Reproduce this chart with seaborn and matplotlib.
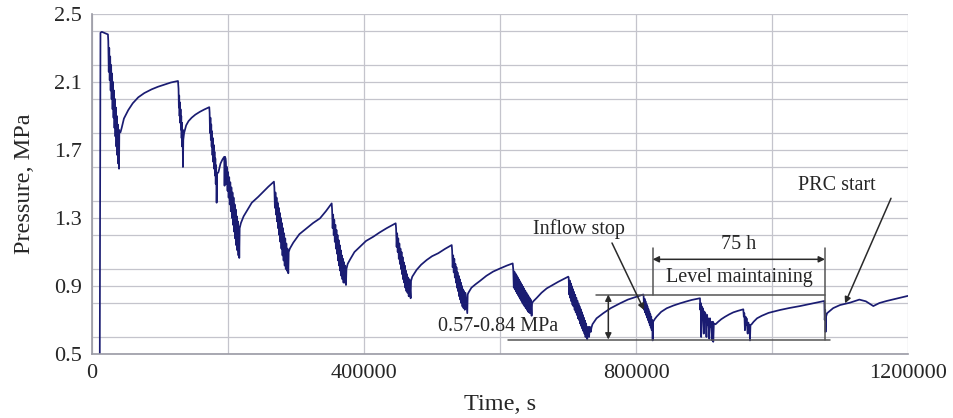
import matplotlib
matplotlib.use("Agg")
import matplotlib.pyplot as plt
import numpy as np
import pandas as pd
import seaborn as sns
from matplotlib.ticker import MultipleLocator, FixedLocator

# (time s, pressure MPa), one list per injection/recovery cycle
FILL = [(11500, 0.50), (12500, 2.39), (14500, 2.395), (23500, 2.38)]
CYCLE_1 = [
    (24000, 2.34), (24700, 2.16), (25400, 2.30), (26100, 2.11), (26800, 2.25), (27500, 2.05),
    (28200, 2.20), (28900, 2.00), (29600, 2.15), (30300, 1.94), (31000, 2.10), (31700, 1.89),
    (32400, 2.05), (33100, 1.83), (33800, 2.00), (34500, 1.78), (35200, 1.95), (35900, 1.72),
    (36600, 1.90), (37300, 1.67), (38000, 1.85), (38700, 1.62), (39300, 1.82), (39800, 1.59),
    (40200, 1.80), (42000, 1.805), (43700, 1.83), (47000, 1.885), (53400, 1.935), (60000, 1.975),
    (68100, 2.01), (77000, 2.035), (87800, 2.057), (97000, 2.072), (107400, 2.086), (116000, 2.097),
    (126500, 2.106),
]
CYCLE_2 = [
    (127300, 2.06), (127800, 1.95), (128300, 2.02), (128800, 1.90), (129300, 1.98), (129800, 1.86),
    (130300, 1.94), (130800, 1.82), (131300, 1.90), (131800, 1.77), (132300, 1.86), (132800, 1.72),
    (133300, 1.82), (133800, 1.60), (134300, 1.76), (135500, 1.80), (138500, 1.845), (142000, 1.87),
    (146600, 1.89), (152000, 1.908), (158800, 1.925), (165000, 1.938), (172500, 1.952),
]
CYCLE_3 = [
    (173000, 1.92), (173600, 1.80), (174200, 1.89), (174800, 1.76), (175400, 1.85), (176000, 1.72),
    (176600, 1.81), (177200, 1.67), (177800, 1.77), (178400, 1.63), (179000, 1.73), (179600, 1.59),
    (180200, 1.69), (180800, 1.55), (181400, 1.65), (182000, 1.50), (182600, 1.61), (183300, 1.39),
    (184000, 1.56), (186000, 1.57), (189000, 1.62), (192000, 1.645), (194500, 1.66), (195000, 1.49),
    (195600, 1.66), (196500, 1.65),
]
CYCLE_4 = [
    (197000, 1.63), (197800, 1.50), (198600, 1.60), (199400, 1.46), (200200, 1.57), (201000, 1.42),
    (201800, 1.54), (202600, 1.38), (203400, 1.51), (204200, 1.34), (205000, 1.48), (205800, 1.30),
    (206600, 1.45), (207400, 1.26), (208200, 1.42), (209000, 1.22), (209800, 1.38), (210600, 1.18),
    (211400, 1.35), (212200, 1.14), (213000, 1.31), (213800, 1.11), (214600, 1.28), (215400, 1.08),
    (216000, 1.25), (216600, 1.065), (217200, 1.24), (219000, 1.27), (223000, 1.31), (227500, 1.34),
    (235000, 1.39), (244600, 1.425), (252000, 1.455), (259300, 1.484), (267600, 1.514),
]
CYCLE_5 = [
    (268200, 1.48), (269000, 1.36), (269800, 1.45), (270600, 1.32), (271400, 1.42), (272200, 1.28),
    (273000, 1.39), (273800, 1.24), (274600, 1.36), (275400, 1.20), (276200, 1.33), (277000, 1.16),
    (277800, 1.30), (278600, 1.12), (279400, 1.27), (280200, 1.08), (281000, 1.24), (281800, 1.05),
    (282600, 1.21), (283400, 1.02), (284200, 1.18), (285000, 1.00), (285800, 1.15), (286600, 0.99),
    (287400, 1.12), (288700, 0.975), (289300, 1.10), (291000, 1.12), (296000, 1.155), (305000, 1.205),
    (315700, 1.24), (325000, 1.27), (335300, 1.298), (344000, 1.34), (352500, 1.386),
]
CYCLE_6 = [
    (353100, 1.35), (353900, 1.24), (354700, 1.32), (355500, 1.20), (356300, 1.29), (357100, 1.16),
    (357900, 1.26), (358700, 1.12), (359500, 1.23), (360300, 1.09), (361100, 1.20), (361900, 1.05),
    (362700, 1.17), (363500, 1.02), (364300, 1.14), (365100, 0.99), (365900, 1.11), (366700, 0.96),
    (367500, 1.08), (368300, 0.94), (369100, 1.06), (369900, 0.92), (370700, 1.04), (371500, 0.92),
    (372300, 1.02), (373500, 0.906), (374200, 1.00), (376000, 1.03), (379400, 1.055), (386000, 1.10),
    (394100, 1.131), (403000, 1.165), (413700, 1.19), (423000, 1.215), (433300, 1.24), (446600, 1.269),
]
CYCLE_7 = [
    (447200, 1.24), (448000, 1.13), (448800, 1.21), (449600, 1.10), (450400, 1.18), (451200, 1.06),
    (452000, 1.15), (452800, 1.03), (453600, 1.12), (454400, 1.00), (455200, 1.10), (456000, 0.97),
    (456800, 1.07), (457600, 0.94), (458400, 1.04), (459200, 0.92), (460000, 1.02), (460800, 0.89),
    (461600, 0.99), (462400, 0.87), (463200, 0.97), (464000, 0.86), (464800, 0.95), (465800, 0.84),
    (466800, 0.94), (468600, 0.828), (469200, 0.93), (471000, 0.955), (477400, 0.995), (484000, 1.025),
    (492200, 1.053), (500000, 1.075), (509300, 1.093), (519000, 1.118), (529000, 1.141),
]
CYCLE_8 = [
    (529600, 1.11), (530400, 1.01), (531200, 1.08), (532000, 0.98), (532800, 1.06), (533600, 0.95),
    (534400, 1.03), (535200, 0.92), (536000, 1.01), (536800, 0.89), (537600, 0.98), (538400, 0.87),
    (539200, 0.96), (540000, 0.84), (540800, 0.94), (541600, 0.82), (542400, 0.92), (543200, 0.80),
    (544000, 0.90), (544800, 0.78), (545600, 0.88), (546400, 0.77), (547200, 0.87), (548200, 0.76),
    (549200, 0.86), (551900, 0.74), (552500, 0.85), (553500, 0.86), (558000, 0.89), (564000, 0.91),
    (570600, 0.93), (580000, 0.96), (590000, 0.985), (600000, 1.003), (610000, 1.02), (618700, 1.033),
]
CYCLE_9 = [
    (619500, 0.997), (620300, 0.89), (621100, 0.985), (621900, 0.88), (622700, 0.974), (623500, 0.868),
    (624300, 0.963), (625100, 0.857), (625900, 0.952), (626700, 0.846), (627500, 0.94), (628300, 0.835),
    (629100, 0.929), (629900, 0.824), (630700, 0.918), (631500, 0.813), (632300, 0.907), (633100, 0.80),
    (633900, 0.896), (634700, 0.79), (635500, 0.885), (636300, 0.78), (637100, 0.873), (637900, 0.77),
    (638700, 0.862), (639500, 0.76), (640300, 0.851), (641100, 0.75), (641900, 0.84), (642700, 0.745),
    (643500, 0.83), (644300, 0.74), (645100, 0.82), (646500, 0.725), (647200, 0.80), (649000, 0.81),
    (654000, 0.83), (661000, 0.86), (668700, 0.886), (677000, 0.905), (685800, 0.925), (693000, 0.94),
    (700400, 0.955),
]
CYCLE_10 = [
    (701000, 0.949), (701800, 0.85), (702600, 0.932), (703400, 0.83), (704200, 0.915), (705000, 0.81),
    (705800, 0.898), (706600, 0.79), (707400, 0.881), (708200, 0.78), (709000, 0.865), (709800, 0.76),
    (710600, 0.848), (711400, 0.745), (712200, 0.831), (713000, 0.73), (713800, 0.814), (714600, 0.71),
    (715400, 0.797), (716200, 0.70), (717000, 0.78), (717800, 0.68), (718600, 0.764), (719400, 0.665),
    (720200, 0.747), (721000, 0.65), (721800, 0.73), (722600, 0.635), (723400, 0.713), (724200, 0.62),
    (725000, 0.696), (725800, 0.60), (726600, 0.68), (728300, 0.586), (729500, 0.66), (731000, 0.60),
    (732000, 0.66), (733500, 0.63), (734500, 0.655), (736000, 0.675), (742000, 0.71), (751900, 0.74),
    (763000, 0.77), (776500, 0.798), (788000, 0.82), (801000, 0.837), (810700, 0.85),
]
CYCLE_11 = [
    (811200, 0.84), (811900, 0.76), (812600, 0.825), (813300, 0.745), (814000, 0.81), (814700, 0.73),
    (815400, 0.795), (816100, 0.715), (816800, 0.78), (817500, 0.70), (818200, 0.765), (818900, 0.685),
    (819600, 0.75), (820300, 0.67), (821000, 0.735), (821700, 0.655), (822400, 0.72), (823100, 0.64),
    (823800, 0.70), (824500, 0.58), (825200, 0.69), (827500, 0.705), (830400, 0.72), (837000, 0.748),
    (845100, 0.769), (855000, 0.785), (864700, 0.798), (873000, 0.808), (881900, 0.818), (894100, 0.828),
]
CYCLE_12 = [
    (894600, 0.76), (895200, 0.80), (895800, 0.60), (896600, 0.78), (897400, 0.72), (898000, 0.77),
    (898800, 0.70), (899600, 0.62), (900500, 0.75), (901300, 0.69), (901900, 0.74), (902800, 0.68),
    (903600, 0.60), (904600, 0.73), (905400, 0.67), (906000, 0.71), (907000, 0.66), (907800, 0.59),
    (908800, 0.71), (909600, 0.66), (910200, 0.69), (911200, 0.65), (912000, 0.58), (913000, 0.69),
    (913600, 0.572), (914500, 0.68), (917000, 0.675), (921000, 0.69), (925500, 0.705), (930900, 0.719),
    (937000, 0.733), (943100, 0.745), (950000, 0.754), (957800, 0.763),
]
CYCLE_13 = [
    (958500, 0.72), (959300, 0.74), (960200, 0.64), (961000, 0.72), (961800, 0.67), (962600, 0.71),
    (963400, 0.66), (964200, 0.62), (965200, 0.685), (966000, 0.64), (966800, 0.67), (967600, 0.58),
    (968300, 0.67), (970000, 0.675), (973000, 0.69), (978000, 0.71), (985000, 0.725), (995000, 0.742),
    (1011800, 0.759), (1026000, 0.771), (1041200, 0.782), (1058000, 0.796), (1077000, 0.812),
]
PRC = [
    (1077500, 0.70), (1078200, 0.76), (1078800, 0.63), (1079500, 0.72), (1081000, 0.74), (1090000, 0.77),
    (1100000, 0.788), (1114700, 0.802), (1128400, 0.82), (1138000, 0.81), (1149000, 0.782), (1158000, 0.80),
    (1168600, 0.812), (1185000, 0.828), (1200000, 0.842),
]

X_TICKS = [0, 400000, 800000, 1200000]
Y_TICKS = [0.5, 0.9, 1.3, 1.7, 2.1, 2.5]

# annotation values (MPa / s)
LEVEL_LOW, LEVEL_HIGH = 0.585, 0.85
HOLD_START, HOLD_END = 824500, 1077900

segments = [FILL, CYCLE_1, CYCLE_2, CYCLE_3, CYCLE_4, CYCLE_5, CYCLE_6, CYCLE_7,
            CYCLE_8, CYCLE_9, CYCLE_10, CYCLE_11, CYCLE_12, CYCLE_13, PRC]
df = pd.DataFrame([p for seg in segments for p in seg], columns=["time", "pressure"])

sns.set_theme(style="whitegrid")
plt.rcParams["font.family"] = ["Liberation Serif", "DejaVu Serif"]

fig = plt.figure(figsize=(9.54, 4.18), dpi=100)
ax = fig.add_axes([0.0964, 0.1531, 0.8554, 0.8134])
ax.set_facecolor("white")

sns.lineplot(data=df, x="time", y="pressure", sort=False, estimator=None,
             color="#1a1c72", lw=1.25, ax=ax)

ax.set_xlim(0, 1200000)
ax.set_ylim(0.5, 2.5)
ax.xaxis.set_major_locator(FixedLocator(X_TICKS))
ax.xaxis.set_minor_locator(MultipleLocator(200000))
ax.yaxis.set_major_locator(FixedLocator(Y_TICKS))
ax.yaxis.set_minor_locator(MultipleLocator(0.2))
ax.set_xticklabels([str(v) for v in X_TICKS])
ax.set_yticklabels([f"{v:.1f}" for v in Y_TICKS])
ax.grid(which="both", color="#c4c4cc", lw=0.9)
ax.tick_params(which="both", length=4, width=0.9, color="#9a9aa4", labelsize=16, pad=3)
for side in ["top", "right"]:
    ax.spines[side].set_visible(False)
for side in ["left", "bottom"]:
    ax.spines[side].set_color("#9a9aa4")
    ax.spines[side].set_linewidth(1.2)

ax.set_xlabel("Time, s", fontsize=17.5, labelpad=8)
ax.set_ylabel("Pressure, MPa", fontsize=17.5, labelpad=14)

ink = "#2a2a2a"
ann_fs = 14.5

# range of maintained level
ax.plot([611800, 1085300], [LEVEL_LOW, LEVEL_LOW], color="#555555", lw=1.1)
ax.plot([741200, HOLD_END], [LEVEL_HIGH, LEVEL_HIGH], color="#555555", lw=1.1)
ax.annotate("", xy=(759300, LEVEL_LOW), xytext=(759300, LEVEL_HIGH),
            arrowprops=dict(arrowstyle="<|-|>", color=ink, lw=1.1, mutation_scale=9, shrinkA=0, shrinkB=0))
ax.text(597800, 0.662, "0.57-0.84 MPa", fontsize=ann_fs, ha="center", va="center")

# 75 h bracket
ax.plot([HOLD_START, HOLD_START], [LEVEL_HIGH, 1.122], color="#555555", lw=1.1)
ax.plot([HOLD_END, HOLD_END], [LEVEL_LOW, 1.122], color="#555555", lw=1.1)
ax.annotate("", xy=(HOLD_START, 1.057), xytext=(HOLD_END, 1.057),
            arrowprops=dict(arrowstyle="<|-|>", color=ink, lw=1.1, mutation_scale=9, shrinkA=0, shrinkB=0))
ax.text(950400, 1.147, "75 h", fontsize=ann_fs, ha="center", va="center")
ax.text(951900, 0.951, "Level maintaining", fontsize=ann_fs, ha="center", va="center")

# pointers
ax.text(716200, 1.235, "Inflow stop", fontsize=ann_fs, ha="center", va="center")
ax.annotate("", xy=(811800, 0.759), xytext=(764700, 1.153),
            arrowprops=dict(arrowstyle="-|>", color=ink, lw=1.1, mutation_scale=9, shrinkA=0, shrinkB=0))
ax.text(1095100, 1.49, "PRC start", fontsize=ann_fs, ha="center", va="center")
ax.annotate("", xy=(1107400, 0.798), xytext=(1175000, 1.416),
            arrowprops=dict(arrowstyle="-|>", color=ink, lw=1.1, mutation_scale=9, shrinkA=0, shrinkB=0))

fig.savefig("out.png", dpi=100)
plt.close(fig)
